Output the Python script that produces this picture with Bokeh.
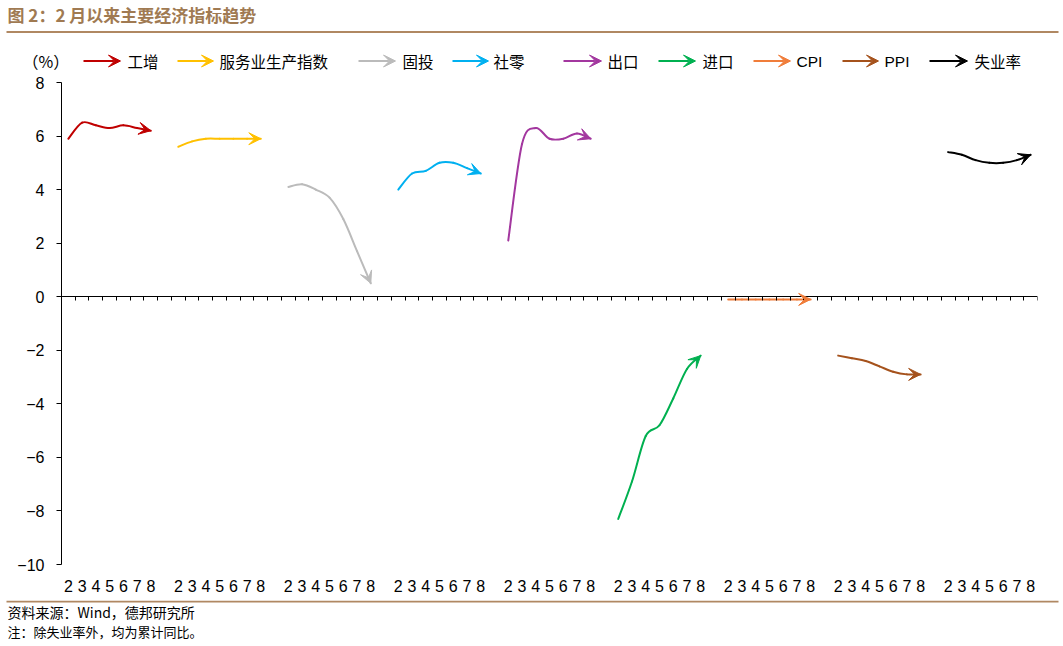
from bokeh.plotting import figure
from bokeh.layouts import column
from bokeh.models import Range1d, LinearAxis, FixedTicker, Arrow, VeeHead, Label, ColumnDataSource
from bokeh.embed import file_html
from bokeh.resources import INLINE

# ---------------- data ----------------
months = ["2", "3", "4", "5", "6", "7", "8"]
series_names = ["工增", "服务业生产指数", "固投", "社零", "出口", "进口", "CPI", "PPI", "失业率"]
ind_va = [5.9, 6.5, 6.4, 6.3, 6.4, 6.3, 6.2]
services = [5.6, 5.8, 5.9, 5.9, 5.9, 5.9, 5.9]
fai = [4.1, 4.2, 4.0, 3.7, 2.9, 1.7, 0.5]
retail = [4.0, 4.6, 4.7, 5.0, 5.0, 4.8, 4.6]
exports = [2.1, 5.7, 6.3, 5.9, 5.9, 6.1, 5.9]
imports = [-8.3, -6.9, -5.2, -4.8, -3.8, -2.7, -2.2]
cpi = [-0.1, -0.1, -0.1, -0.1, -0.1, -0.1, -0.1]
ppi = [-2.2, -2.3, -2.4, -2.6, -2.8, -2.9, -2.9]
unemp = [5.4, 5.3, 5.1, 5.0, 5.0, 5.1, 5.3]
series = [ind_va, services, fai, retail, exports, imports, cpi, ppi, unemp]
y_ticks = [-10, -8, -6, -4, -2, 0, 2, 4, 6, 8]

colors = ["#C00000", "#FFC000", "#BBBBBB", "#00B0F0", "#A3379F",
          "#00B050", "#F07D3A", "#A5521C", "#000000"]

unit_text = "（%）"
title_text = "图 2：2 月以来主要经济指标趋势"
source_text = "资料来源：Wind，德邦研究所"
note_text = "注：除失业率外，均为累计同比。"

# ---------------- layout constants ----------------
W = 1063
TOP_H, MAIN_H, BOT_H = 74, 526, 46
GROUP = len(months) + 1            # 7 months + one blank slot
NCAT = GROUP * len(series) - 1     # 71 slots
CJK = "Noto Sans CJK SC"
LAT = "Liberation Sans"
TITLE_COL = "#A07A52"
RULE_COL = "#B08862"


def canvas_fig(h):
    f = figure(width=W, height=h, x_range=Range1d(0, W), y_range=Range1d(h, 0),
               x_axis_type=None, y_axis_type=None, output_backend="svg", toolbar_location=None,
               min_border=0, frame_align=False)
    f.outline_line_color = None
    f.grid.visible = False
    f.background_fill_color = "white"
    f.border_fill_color = "white"
    return f


# ---------------- header: title, rule, legend ----------------
top = canvas_fig(TOP_H)
top.add_layout(Label(x=7, y=14, text=title_text, text_font=CJK, text_font_size="17px",
                     text_font_style="bold", text_baseline="middle", text_color=TITLE_COL))
top.add_layout(Arrow(end=None, x_start=6, x_end=1058, y_start=31.5, y_end=31.5,
                     line_color=RULE_COL, line_width=2))
LEG_Y = 60.5
arrow_px = [(83, 120), (177, 213), (358, 395), (452, 488), (563, 601),
            (658, 695), (753, 790), (842, 878), (929, 967)]
text_px = [127, 219, 402, 493, 607, 702, 796, 884, 974]
top.add_layout(Label(x=22, y=LEG_Y, text=unit_text, text_font=CJK, text_font_size="16px",
                     text_baseline="middle", text_color="black"))
for name, col, (a0, a1), t0 in zip(series_names, colors, arrow_px, text_px):
    top.add_layout(Arrow(end=VeeHead(size=12, fill_color=col, line_color=col, line_width=1),
                         x_start=a0, y_start=LEG_Y, x_end=a1, y_end=LEG_Y,
                         line_color=col, line_width=2))
    font = LAT if name.isascii() else CJK
    top.add_layout(Label(x=t0, y=LEG_Y, text=name, text_font=font, text_font_size="15.5px",
                         text_baseline="middle", text_color="black"))


# ---------------- main chart ----------------
def smooth(xs, ys):
    X = [xs[0]] + list(xs) + [xs[-1]]
    Y = [ys[0]] + list(ys) + [ys[-1]]
    d = {k: [] for k in ["x0", "y0", "x1", "y1", "cx0", "cy0", "cx1", "cy1"]}
    for i in range(len(xs) - 1):
        d["x0"].append(X[i + 1]); d["y0"].append(Y[i + 1])
        d["x1"].append(X[i + 2]); d["y1"].append(Y[i + 2])
        d["cx0"].append(X[i + 1] + (X[i + 2] - X[i]) / 6)
        d["cy0"].append(Y[i + 1] + (Y[i + 2] - Y[i]) / 6)
        d["cx1"].append(X[i + 2] - (X[i + 3] - X[i + 1]) / 6)
        d["cy1"].append(Y[i + 2] - (Y[i + 3] - Y[i + 1]) / 6)
    return d


p = figure(width=W, height=MAIN_H, x_range=Range1d(-0.5, NCAT - 0.5), y_range=Range1d(-10, 8),
           output_backend="svg", toolbar_location=None, frame_align=False,
           min_border_left=61, min_border_right=26, min_border_top=8, min_border_bottom=36)
p.outline_line_color = None
p.grid.visible = False
p.background_fill_color = "white"
p.border_fill_color = "white"

centers = [g * GROUP + j for g in range(len(series)) for j in range(len(months))]
xa = p.xaxis[0]
xa.ticker = FixedTicker(ticks=centers)
xa.major_label_overrides = {g * GROUP + j: m for g in range(len(series)) for j, m in enumerate(months)}
xa.axis_line_color = None
xa.major_tick_line_color = None
xa.minor_tick_line_color = None
xa.major_label_standoff = 9
xa.major_label_text_font = LAT
xa.major_label_text_font_size = "16px"
xa.major_label_text_color = "black"

za = LinearAxis(fixed_location=0, ticker=FixedTicker(ticks=[k + 0.5 for k in range(NCAT)]),
                major_tick_out=4, major_tick_in=0, major_label_standoff=0,
                major_label_text_color=None, major_label_text_font_size="1px",
                minor_tick_line_color=None, axis_line_color="black", major_tick_line_color="black")
p.add_layout(za, "below")

ya = p.yaxis[0]
ya.ticker = FixedTicker(ticks=y_ticks)
ya.major_tick_out = 5
ya.major_tick_in = 0
ya.minor_tick_line_color = None
ya.axis_line_color = "black"
ya.major_tick_line_color = "black"
ya.major_label_standoff = 12
ya.major_label_text_font = LAT
ya.major_label_text_font_size = "16px"
ya.major_label_text_color = "black"

for g, (vals, col) in enumerate(zip(series, colors)):
    xs = [g * GROUP + j for j in range(len(vals))]
    segs = smooth(xs, vals)
    p.bezier(x0="x0", y0="y0", x1="x1", y1="y1", cx0="cx0", cy0="cy0", cx1="cx1", cy1="cy1",
             source=ColumnDataSource(segs), line_color=col, line_width=2, line_cap="round")
    p.add_layout(Arrow(end=VeeHead(size=12, fill_color=col, line_color=col, line_width=1),
                       x_start=segs["cx1"][-1], y_start=segs["cy1"][-1],
                       x_end=xs[-1], y_end=vals[-1], line_color=None))

# ---------------- footer: rule and notes ----------------
bot = canvas_fig(BOT_H)
bot.add_layout(Arrow(end=None, x_start=6, x_end=1058, y_start=1, y_end=1,
                     line_color=RULE_COL, line_width=2))
bot.add_layout(Label(x=7, y=11, text=source_text, text_font=CJK, text_font_size="14px",
                     text_baseline="middle", text_color="black"))
bot.add_layout(Label(x=7, y=31, text=note_text, text_font=CJK, text_font_size="13px",
                     text_baseline="middle", text_color="black"))

layout = column(top, p, bot, spacing=0)
open("out.html", "w").write(file_html(layout, INLINE))
